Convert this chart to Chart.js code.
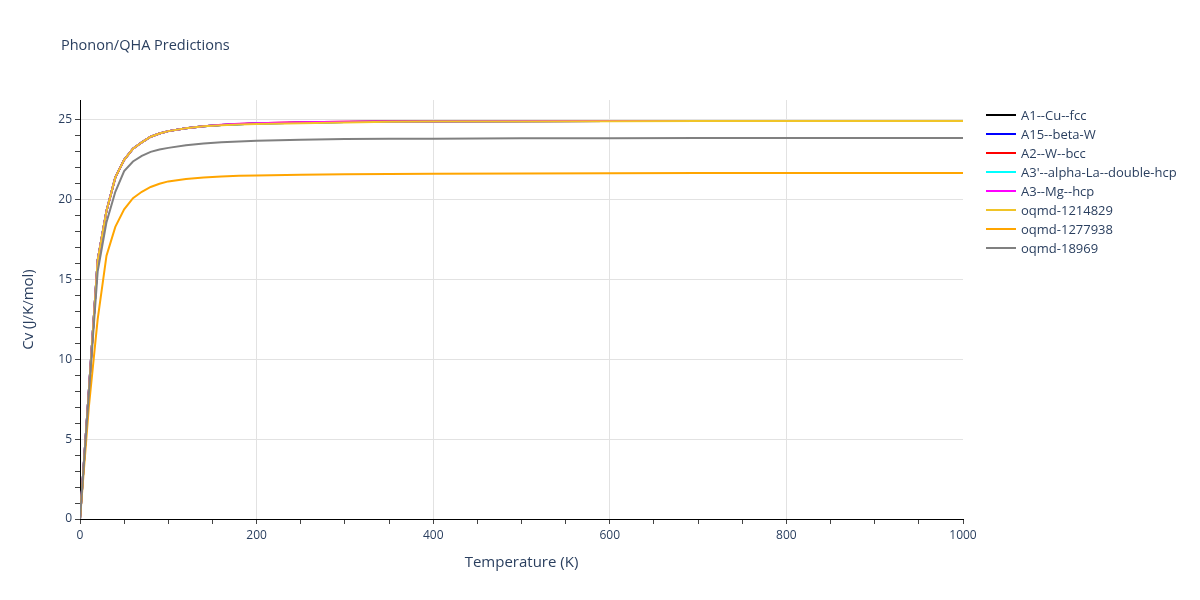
<!DOCTYPE html>
<html>
<head>
<meta charset="utf-8">
<script src="https://cdn.jsdelivr.net/npm/chart.js@4.4.1/dist/chart.umd.min.js"></script>
<style>
  html, body { margin: 0; padding: 0; background: #fff; }
  #wrap { position: relative; width: 1200px; height: 600px; font-family: "Open Sans", Verdana, sans-serif; }
  #title { position: absolute; left: 61px; top: 35px; font-size: 14.5px; color: #2a3f5f; }
  #legend { position: absolute; left: 986px; top: 105px; font-size: 13px; color: #2a3f5f; }
  .item { height: 19px; display: flex; align-items: center; }
  .swatch { width: 30px; height: 2px; margin-right: 5px; }
  canvas { position: absolute; left: 0; top: 0; }
</style>
</head>
<body>
<div id="wrap">
  <canvas id="c" width="1200" height="600"></canvas>
  <div id="title">Phonon/QHA Predictions</div>
  <div id="legend"></div>
</div>
<script>
const temperatures = [0,10,20,30,40,50,60,70,80,90,100,120,140,160,180,200,250,300,350,400,500,600,700,800,900,1000];

const cvA1Cu   = [0,8.0,16.2,19.3,21.4,22.5,23.2,23.6,23.95,24.15,24.3,24.48,24.6,24.68,24.73,24.77,24.83,24.87,24.89,24.9,24.92,24.93,24.93,24.93,24.93,24.93];
const cvA15W   = [0,8.0,16.2,19.3,21.4,22.5,23.2,23.6,23.95,24.15,24.3,24.48,24.6,24.68,24.73,24.77,24.83,24.87,24.89,24.9,24.92,24.93,24.93,24.93,24.93,24.93];
const cvA2W    = [0,8.0,16.2,19.3,21.4,22.5,23.2,23.6,23.95,24.15,24.3,24.48,24.6,24.69,24.75,24.79,24.85,24.89,24.92,24.93,24.94,24.94,24.94,24.94,24.94,24.94];
const cvA3pLa  = [0,8.0,16.2,19.3,21.4,22.5,23.2,23.6,23.95,24.15,24.3,24.48,24.6,24.68,24.73,24.77,24.83,24.87,24.89,24.9,24.92,24.93,24.93,24.93,24.93,24.93];
const cvA3Mg   = [0,8.0,16.2,19.3,21.4,22.5,23.2,23.6,23.95,24.15,24.3,24.48,24.61,24.7,24.76,24.8,24.85,24.88,24.9,24.91,24.92,24.93,24.93,24.93,24.93,24.93];
const cv1214829 = [0,8.0,16.2,19.3,21.4,22.5,23.2,23.6,23.95,24.15,24.3,24.48,24.6,24.67,24.72,24.75,24.8,24.84,24.88,24.9,24.91,24.92,24.93,24.93,24.94,24.94];
const cv1277938 = [0,7.0,12.5,16.5,18.3,19.4,20.1,20.5,20.8,21.0,21.15,21.3,21.39,21.45,21.5,21.52,21.56,21.6,21.62,21.63,21.65,21.66,21.67,21.67,21.67,21.67];
const cv18969   = [0,7.8,15.5,18.6,20.5,21.8,22.4,22.75,23.0,23.15,23.25,23.42,23.52,23.6,23.65,23.7,23.76,23.8,23.82,23.83,23.85,23.86,23.87,23.87,23.87,23.87];

const seriesNames = ["A1--Cu--fcc","A15--beta-W","A2--W--bcc","A3'--alpha-La--double-hcp","A3--Mg--hcp","oqmd-1214829","oqmd-1277938","oqmd-18969"];
const seriesValues = [cvA1Cu, cvA15W, cvA2W, cvA3pLa, cvA3Mg, cv1214829, cv1277938, cv18969];
const seriesColors = ["#000000","#0000ff","#ff0000","#00ffff","#ff00ff","#f0c428","#ffa500","#808080"];

const xTickLabels = [0,200,400,600,800,1000];
const yTickLabels = [0,5,10,15,20,25];

const datasets = seriesNames.map((n, i) => ({
  label: n,
  data: temperatures.map((t, j) => ({x: t, y: seriesValues[i][j]})),
  borderColor: seriesColors[i],
  backgroundColor: seriesColors[i],
  borderWidth: 2,
  pointRadius: 0,
  tension: 0,
  fill: false,
  order: seriesNames.length - i
}));

const leg = document.getElementById('legend');
seriesNames.forEach((n, i) => {
  const d = document.createElement('div'); d.className = 'item';
  const s = document.createElement('div'); s.className = 'swatch'; s.style.background = seriesColors[i];
  const t = document.createElement('span'); t.textContent = n;
  d.appendChild(s); d.appendChild(t); leg.appendChild(d);
});

const font = { family: '"Open Sans", Verdana, sans-serif', size: 12 };

new Chart(document.getElementById('c'), {
  type: 'line',
  data: { datasets },
  options: {
    responsive: false,
    animation: false,
    layout: { padding: { left: 0, right: 237, top: 100, bottom: 0 } },
    plugins: { legend: { display: false }, tooltip: { enabled: false } },
    scales: {
      x: {
        type: 'linear', min: 0, max: 1000,
        afterFit: s => { s.height = 81; },
        afterBuildTicks: s => { s.ticks = s.ticks.filter(t => t.value % 50 === 0); },
        ticks: {
          stepSize: 50, autoSkip: false, maxRotation: 0, maxTicksLimit: 100,
          color: '#2a3f5f', font, padding: 4,
          callback: v => xTickLabels.includes(v) ? String(v) : ''
        },
        grid: {
          color: c => (c.tick && c.tick.value % 200 === 0 && c.tick.value > 0 && c.tick.value < 1000) ? '#e2e2e2' : 'rgba(0,0,0,0)',
          tickColor: '#444', tickLength: 5, lineWidth: 1
        },
        border: { color: '#000', width: 1 },
        title: { display: true, text: 'Temperature (K)', color: '#2a3f5f', font: { family: font.family, size: 15 }, padding: { top: 0, bottom: 28 } }
      },
      y: {
        type: 'linear', min: 0, max: 26.25,
        afterFit: s => { s.width = 80; },
        afterBuildTicks: s => { s.ticks = s.ticks.filter(t => Number.isInteger(t.value)); },
        ticks: {
          stepSize: 1, autoSkip: false, maxTicksLimit: 100,
          color: '#2a3f5f', font, padding: 3,
          callback: v => yTickLabels.includes(v) ? String(v) : ''
        },
        grid: {
          color: c => (c.tick && c.tick.value % 5 === 0 && c.tick.value > 0) ? '#e2e2e2' : 'rgba(0,0,0,0)',
          tickColor: '#444', tickLength: 5, lineWidth: 1
        },
        border: { color: '#000', width: 1 },
        title: { display: true, text: 'Cv (J/K/mol)', color: '#2a3f5f', font: { family: font.family, size: 15 }, padding: { top: 20, bottom: 0 } }
      }
    }
  }
});
</script>
</body>
</html>
